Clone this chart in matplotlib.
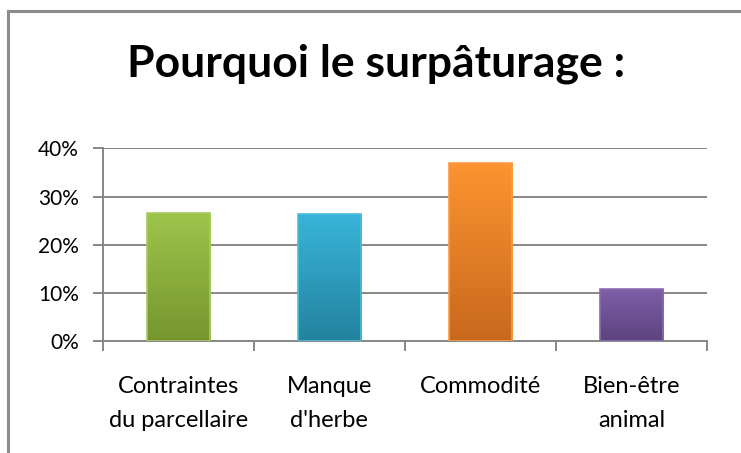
import numpy as np
import matplotlib.pyplot as plt
from matplotlib.colors import LinearSegmentedColormap
from matplotlib.ticker import PercentFormatter

categories = ["Contraintes\ndu parcellaire", "Manque\nd'herbe", "Commodité", "Bien-être\nanimal"]
values = [0.265, 0.263, 0.370, 0.108]
top_colors = ["#9DC54B", "#39B4D9", "#FD9431", "#7F5FA9"]
bottom_colors = ["#76952F", "#23839F", "#C9681D", "#5D437F"]
edge_colors = ["#A6CB5E", "#4BBCDD", "#F89B45", "#8A6CB2"]
yticks = [0, 0.1, 0.2, 0.3, 0.4]

plt.rcParams['font.family'] = ['Lato', 'DejaVu Sans']

fig = plt.figure(figsize=(7.41, 4.53), dpi=100)
ax = fig.add_axes([0.1386, 0.2466, 0.8159, 0.426])

x = np.arange(len(categories))
bars = ax.bar(x, values, width=0.42, color='none', edgecolor=edge_colors, linewidth=1.2, zorder=3)

# vertical gradient inside each bar
grad = np.linspace(0, 1, 256).reshape(-1, 1)
for bar, c_top, c_bot in zip(bars, top_colors, bottom_colors):
    cmap = LinearSegmentedColormap.from_list('g', [c_bot, c_top])
    x0, y0 = bar.get_x(), bar.get_y()
    w, h = bar.get_width(), bar.get_height()
    im = ax.imshow(grad, cmap=cmap, aspect='auto', origin='lower',
                   extent=[x0, x0 + w, y0, y0 + h], zorder=2)
    im.set_clip_path(bar)

ax.set_xlim(-0.5, len(categories) - 0.5)
ax.set_ylim(0, 0.4)
ax.set_yticks(yticks)
ax.yaxis.set_major_formatter(PercentFormatter(1.0, decimals=0))
ax.set_xticks(x)
ax.set_xticklabels(categories, linespacing=1.75)
ax.set_xticks(np.arange(len(categories) + 1) - 0.5, minor=True)

grid_col = '#878787'
ax.grid(axis='y', color=grid_col, linewidth=1.4, zorder=1)
for s in ['top', 'right']:
    ax.spines[s].set_visible(False)
for s in ['left', 'bottom']:
    ax.spines[s].set_color(grid_col)
    ax.spines[s].set_linewidth(1.4)

ax.tick_params(axis='y', which='major', length=7, width=1.4, color=grid_col,
               labelsize=15, pad=10, labelcolor='black')
ax.tick_params(axis='x', which='major', length=0, labelsize=17, pad=25, labelcolor='black')
ax.tick_params(axis='x', which='minor', length=7, width=1.4, color=grid_col)

fig.text(0.5074, 1 - 77 / 453, "Pourquoi le surpâturage :", ha='center', va='baseline',
         fontsize=32, fontweight='bold')

# chart area border (left and top edges visible)
fig.add_artist(plt.Line2D([0.011, 0.011], [0.0, 0.976], color='#8C8C8C', linewidth=2.2,
                          transform=fig.transFigure))
fig.add_artist(plt.Line2D([0.011, 1.0], [0.976, 0.976], color='#8C8C8C', linewidth=2.2,
                          transform=fig.transFigure))

fig.savefig('out.png', dpi=100)
